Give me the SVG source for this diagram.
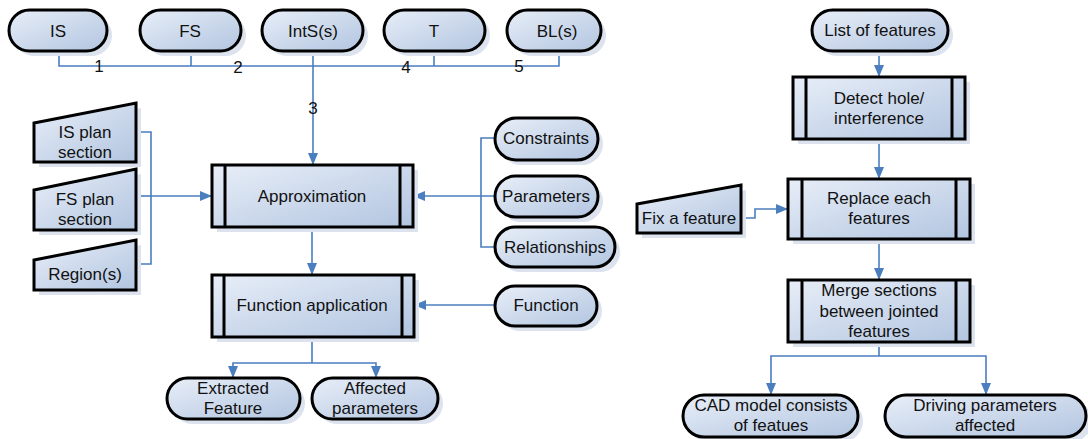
<svg xmlns="http://www.w3.org/2000/svg" width="1088" height="439" viewBox="0 0 1088 439">
<defs>
<linearGradient id="g" x1="0" y1="0" x2="1" y2="1">
<stop offset="0" stop-color="#e8eef8"/>
<stop offset="1" stop-color="#b2c5e0"/>
</linearGradient>
<marker id="arr" viewBox="0 0 12 10" refX="12" refY="5" markerWidth="12" markerHeight="10" markerUnits="userSpaceOnUse" orient="auto">
<path d="M0,0 L12,5 L0,10 z" fill="#4a7ebf"/>
</marker>
<style>
.n{fill:url(#g);stroke:#000;stroke-width:3}
.s{fill:#dce3ee;stroke:none}
.l{fill:none;stroke:#000;stroke-width:3}
.c{fill:none;stroke:#4a7ebf;stroke-width:1.6}
.a{marker-end:url(#arr)}
text{font-family:"Liberation Sans",Arial,sans-serif;font-size:17px;fill:#111;text-anchor:middle}
</style>
</defs>
<rect width="1088" height="439" fill="#fff"/>

<g id="connectors">
<path class="c" d="M59,51 V66 H559 V51"/>
<path class="c" d="M191,51 V66"/>
<path class="c" d="M434,51 V66"/>
<path class="c a" d="M313,51 V165"/>
<path class="c" d="M136,132 H151 V264 H136"/>
<path class="c" d="M136,196 H151"/>
<path class="c a" d="M151,196 H212"/>
<path class="c" d="M495,138 H481 V247 H495"/>
<path class="c a" d="M495,196 H413"/>
<path class="c a" d="M312,227 V275"/>
<path class="c a" d="M495,305 H414"/>
<path class="c" d="M312,337 V363"/>
<path class="c a" d="M312,363 H233 V378"/>
<path class="c a" d="M312,363 H376 V378"/>
<path class="c a" d="M879,51 V77"/>
<path class="c a" d="M879,139 V179"/>
<path class="c a" d="M741,218 H755 V209 H788"/>
<path class="c a" d="M879,239 V280"/>
<path class="c" d="M879,342 V356"/>
<path class="c a" d="M879,356 H771 V395"/>
<path class="c a" d="M879,356 H986 V395"/>
<text x="99" y="72">1</text>
<text x="238" y="73">2</text>
<text x="313" y="114">3</text>
<text x="406" y="73">4</text>
<text x="519" y="72">5</text>
</g>

<g id="IS">
<rect class="s" x="14" y="15" width="98" height="41" rx="20.5"/>
<rect class="n" x="9" y="10" width="98" height="41" rx="20.5"/>
<text x="58" y="37">IS</text>
</g>
<g id="FS">
<rect class="s" x="145" y="15" width="101" height="41" rx="20.5"/>
<rect class="n" x="140" y="10" width="101" height="41" rx="20.5"/>
<text x="190" y="37">FS</text>
</g>
<g id="IntS">
<rect class="s" x="267" y="15" width="101" height="41" rx="20.5"/>
<rect class="n" x="262" y="10" width="101" height="41" rx="20.5"/>
<text x="313" y="37">IntS(s)</text>
</g>
<g id="T">
<rect class="s" x="389" y="15" width="101" height="41" rx="20.5"/>
<rect class="n" x="384" y="10" width="101" height="41" rx="20.5"/>
<text x="434" y="37">T</text>
</g>
<g id="BL">
<rect class="s" x="512" y="15" width="94" height="41" rx="20.5"/>
<rect class="n" x="507" y="10" width="94" height="41" rx="20.5"/>
<text x="557" y="37">BL(s)</text>
</g>

<g id="ISplan">
<polygon class="s" points="39,128 141,108 141,167 39,167"/>
<polygon class="n" points="34,123 136,103 136,162 34,162"/>
<text x="85" y="138">IS plan</text>
<text x="85" y="158">section</text>
</g>
<g id="FSplan">
<polygon class="s" points="39,195 141,174 141,235 39,235"/>
<polygon class="n" points="34,190 136,169 136,230 34,230"/>
<text x="85" y="205">FS plan</text>
<text x="85" y="225">section</text>
</g>
<g id="Region">
<polygon class="s" points="39,265 141,245 141,295 39,295"/>
<polygon class="n" points="34,260 136,240 136,290 34,290"/>
<text x="85" y="280">Region(s)</text>
</g>

<g id="Approximation">
<rect class="s" x="217" y="170" width="201" height="62"/>
<rect class="n" x="212" y="165" width="201" height="62"/>
<path class="l" d="M225,165 V227 M400,165 V227"/>
<text x="312" y="202">Approximation</text>
</g>
<g id="FunctionApplication">
<rect class="s" x="217" y="280" width="202" height="62"/>
<rect class="n" x="212" y="275" width="202" height="62"/>
<path class="l" d="M224,275 V337 M402,275 V337"/>
<text x="312" y="311">Function application</text>
</g>

<g id="Constraints">
<rect class="s" x="500" y="123" width="103" height="42" rx="21"/>
<rect class="n" x="495" y="118" width="103" height="42" rx="21"/>
<text x="546" y="144">Constraints</text>
</g>
<g id="Parameters">
<rect class="s" x="500" y="181" width="103" height="41" rx="20.5"/>
<rect class="n" x="495" y="176" width="103" height="41" rx="20.5"/>
<text x="546" y="202">Parameters</text>
</g>
<g id="Relationships">
<rect class="s" x="500" y="232" width="120" height="40" rx="20"/>
<rect class="n" x="495" y="227" width="120" height="40" rx="20"/>
<text x="555" y="253">Relationships</text>
</g>
<g id="Function">
<rect class="s" x="500" y="291" width="102" height="40" rx="20"/>
<rect class="n" x="495" y="286" width="102" height="40" rx="20"/>
<text x="546" y="311">Function</text>
</g>

<g id="Extracted">
<rect class="s" x="172" y="383" width="133" height="41" rx="20.5"/>
<rect class="n" x="167" y="378" width="133" height="41" rx="20.5"/>
<text x="233" y="394">Extracted</text>
<text x="233" y="414">Feature</text>
</g>
<g id="Affected">
<rect class="s" x="317" y="383" width="126" height="41" rx="20.5"/>
<rect class="n" x="312" y="378" width="126" height="41" rx="20.5"/>
<text x="375" y="394">Affected</text>
<text x="375" y="414">parameters</text>
</g>

<g id="ListOfFeatures">
<rect class="s" x="817" y="15" width="136" height="41" rx="20.5"/>
<rect class="n" x="812" y="10" width="136" height="41" rx="20.5"/>
<text x="880" y="36">List of features</text>
</g>
<g id="Detect">
<rect class="s" x="798" y="82" width="172" height="62"/>
<rect class="n" x="793" y="77" width="172" height="62"/>
<path class="l" d="M806,77 V139 M952,77 V139"/>
<text x="879" y="104">Detect hole/</text>
<text x="879" y="124">interference</text>
</g>
<g id="Replace">
<rect class="s" x="793" y="184" width="182" height="60"/>
<rect class="n" x="788" y="179" width="182" height="60"/>
<path class="l" d="M802,179 V239 M956,179 V239"/>
<text x="879" y="204">Replace each</text>
<text x="879" y="224">features</text>
</g>
<g id="FixFeature">
<polygon class="s" points="642,209 746,190 746,238 642,238"/>
<polygon class="n" points="637,204 741,185 741,233 637,233"/>
<text x="689" y="224">Fix a feature</text>
</g>
<g id="Merge">
<rect class="s" x="793" y="285" width="182" height="62"/>
<rect class="n" x="788" y="280" width="182" height="62"/>
<path class="l" d="M802,280 V342 M956,280 V342"/>
<text x="879" y="296">Merge sections</text>
<text x="879" y="317">between jointed</text>
<text x="879" y="337">features</text>
</g>
<g id="CAD">
<rect class="s" x="688" y="400" width="175" height="42" rx="21"/>
<rect class="n" x="683" y="395" width="175" height="42" rx="21"/>
<text x="771" y="411">CAD model consists</text>
<text x="771" y="431">of featues</text>
</g>
<g id="Driving">
<rect class="s" x="890" y="400" width="202" height="42" rx="21"/>
<rect class="n" x="885" y="395" width="201" height="42" rx="21"/>
<text x="985" y="411">Driving parameters</text>
<text x="985" y="431">affected</text>
</g>
</svg>
